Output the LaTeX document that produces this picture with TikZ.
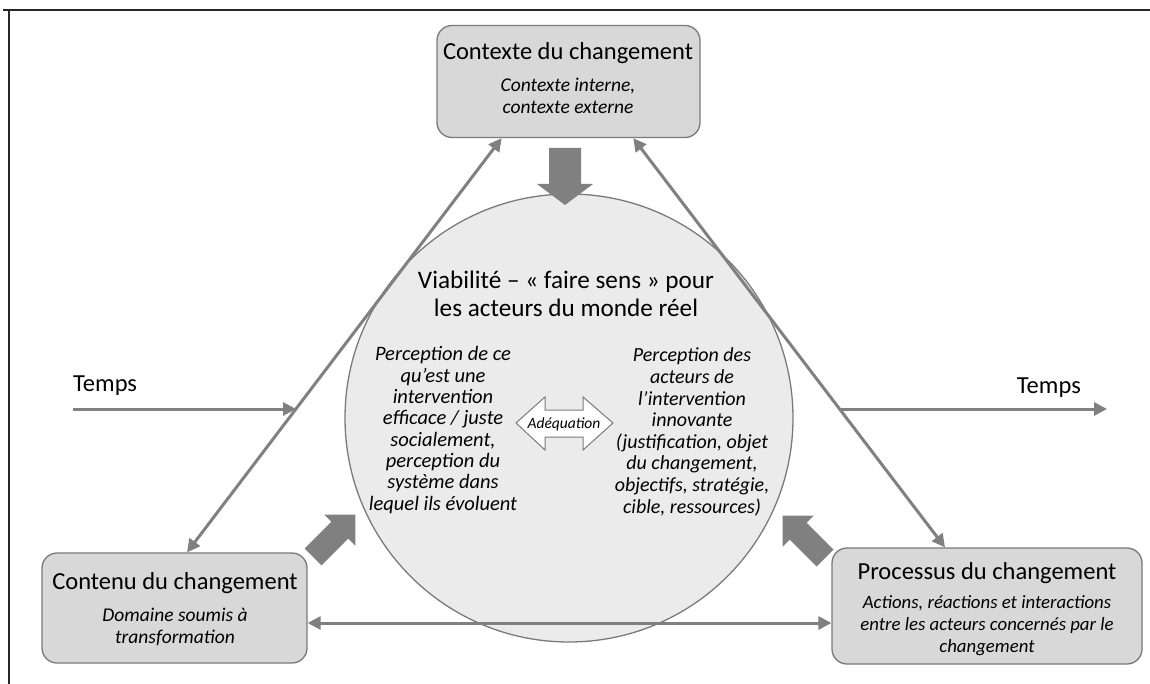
\documentclass[tikz,border=0pt]{standalone}
\usepackage{fontspec}
\setmainfont{Carlito}
\usetikzlibrary{arrows.meta,calc}
\definecolor{arrgray}{HTML}{808080}
\definecolor{boxfill}{HTML}{D8D8D8}
\definecolor{boxline}{HTML}{7A7A7A}
\definecolor{circfill}{HTML}{EBEBEB}
\begin{document}
\begin{tikzpicture}[x=1pt,y=1pt,
  box/.style={draw=boxline, fill=boxfill, rounded corners=15pt, line width=1.3pt, inner sep=0pt},
  ttl/.style={font=\fontsize{24.5}{28}\selectfont, inner sep=0pt, align=center},
  ital/.style={font=\fontsize{19.5}{21.3}\selectfont\itshape, inner sep=0pt, align=center},
  conn/.style={draw=arrgray, line width=3pt, {Triangle[length=13pt,width=13pt]}-{Triangle[length=13pt,width=13pt]}},
  oneway/.style={draw=arrgray, line width=3pt, -{Triangle[length=13pt,width=13pt]}},
  bigfat/.pic={\fill[arrgray] (0,-16) -- (36,-16) -- (36,-28) -- (57,0) -- (36,28) -- (36,16) -- (0,16) -- cycle;},
  smallfat/.pic={\fill[arrgray] (0,-12) -- (38,-12) -- (38,-22) -- (60,0) -- (38,22) -- (38,12) -- (0,12) -- cycle;}
]
\useasboundingbox (0,0) rectangle (1150,-684);
% frame
\draw[line width=2pt, black!85] (3,-10) -- (1150,-10);
\draw[line width=2pt, black!85] (9,-10) -- (9,-684);

% circle
\node[circle, draw=boxline, fill=circfill, line width=1.3pt, minimum size=448pt, inner sep=0pt] (circ) at (569,-418) {};

% boxes
\node[box, minimum width=263pt, minimum height=112pt] (ctx) at (568.5,-81.5) {};
\node[box, minimum width=265pt, minimum height=110pt] (cont) at (174.5,-608) {};
\node[box, minimum width=310pt, minimum height=116pt] (proc) at (987,-606) {};

% connectors
\draw[conn] ($(cont.north west)!0.547!(cont.north east)$) -- ($(ctx.south west)!0.247!(ctx.south east)$);
\draw[conn] ($(ctx.south west)!0.745!(ctx.south east)$) -- ($(proc.north west)!0.365!(proc.north east)$);
\draw[conn] ($(cont.east)+(0,-15)$) -- ($(proc.west)+(0,-17)$);

% time arrows
\coordinate (tl1) at (73,-409);
\coordinate (tl2) at (296,-409);
\coordinate (tr1) at (840,-409);
\coordinate (tr2) at (1107,-409);
\draw[oneway] (tl1) -- (tl2);
\draw[oneway] (tr1) -- (tr2);
\node[font=\fontsize{24.5}{28}\selectfont, inner sep=0pt, anchor=west] (tempsl) at (73,-386) {Temps};
\node[font=\fontsize{24.5}{28}\selectfont, inner sep=0pt, anchor=east] (tempsr) at (1081,-388) {Temps};

% fat arrows
\pic[rotate=-90] (fa1) at (565,-148) {bigfat};
\pic[rotate=45] (fa2) at (313,-557) {smallfat};
\pic[rotate=135] (fa3) at (825,-558) {smallfat};

% box texts
\node[ttl] (ctxt) at (568,-53) {Contexte du changement};
\node[ital] (ctxi) at (568,-96) {Contexte interne,\\ contexte externe};
\node[ttl] (contt) at (175,-583) {Contenu du changement};
\node[ital] (conti) at (175,-627) {Domaine soumis à\\ transformation};
\node[ttl] (proct) at (987,-573) {Processus du changement};
\node[ital, font=\fontsize{18.8}{22}\selectfont\itshape] (proci) at (987,-626) {Actions, réactions et interactions\\ entre les acteurs concernés par le\\ changement};

% circle texts
\node[ttl, font=\fontsize{25.2}{28}\selectfont] (circt) at (566,-294) {Viabilité – « faire sens » pour\\ les acteurs du monde réel};
\node[ital, font=\fontsize{20.5}{21.3}\selectfont\itshape] (lcol) at (443,-430) {Perception de ce\\ qu’est une\\ intervention\\ efficace / juste\\ socialement,\\ perception du\\ système dans\\ lequel ils évoluent};
\node[ital, font=\fontsize{20}{21.6}\selectfont\itshape] (rcol) at (692,-432) {Perception des\\ acteurs de\\ l’intervention\\ innovante\\ (justification, objet\\ du changement,\\ objectifs, stratégie,\\ cible, ressources)};

% adequation double arrow
\draw[draw=boxline, fill=white, line width=1pt] (516,-423) -- (545,-397) -- (545,-410) -- (583,-410) -- (583,-397) -- (613,-423) -- (583,-450) -- (583,-437) -- (545,-437) -- (545,-450) -- cycle;
\node[font=\fontsize{15.5}{18}\selectfont\itshape, inner sep=0pt] (adeq) at (564,-424) {Adéquation};
\end{tikzpicture}
\end{document}
